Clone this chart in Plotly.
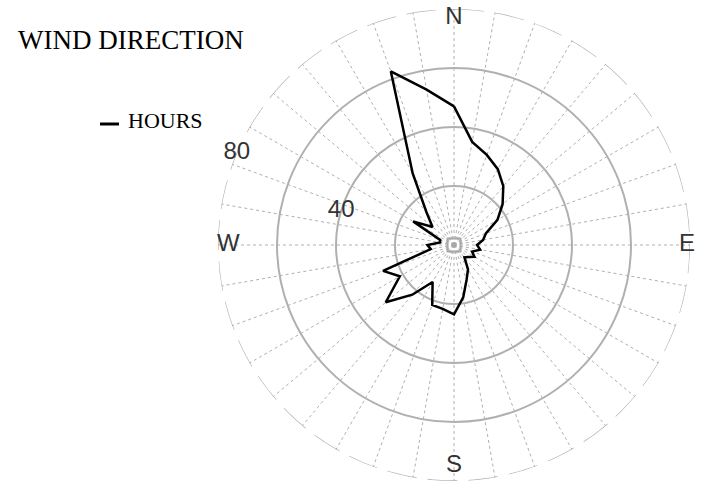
import numpy as np
import plotly.graph_objects as go

# ---- data ----
directions = [0, 10, 20, 30, 40, 50, 60, 70, 80, 90, 100, 110, 120, 130, 140, 150, 160, 170,
              180, 190, 200, 210, 220, 230, 240, 250, 260, 270, 280, 290, 300, 310, 320, 330, 340, 350]
hours = [47, 35.5, 32.5, 29.7, 26, 21.5, 17, 11.5, 10, 7.8, 9, 6.5, 8, 6.3, 5.5, 9.5, 12.5, 18,
         23.5, 22, 21.6, 14.5, 22, 30.2, 21.2, 25.6, 8, 9, 4.8, 5, 16, 9.5, 14.5, 28, 62.6, 53.5]
compass_labels = ["N", "E", "S", "W"]
compass_angles = [0, 90, 180, 270]
compass_r = [77, 79, 75, 76.5]
radial_ticks = [20, 40, 60, 80]
radial_label_text = ["40", "80"]
radial_label_r = [40, 80]
radial_label_theta = [287, 293]
series_name = "HOURS"
title_text = "WIND DIRECTION"

GRID = "#b0b0b0"

fig = go.Figure()

# outer dashed ring
ring_theta = np.linspace(0, 360, 361)
fig.add_trace(go.Scatterpolar(
    r=[radial_ticks[-1]] * len(ring_theta), theta=ring_theta, mode="lines",
    line=dict(color=GRID, width=1.3, dash="30px,11px"),
    hoverinfo="skip", showlegend=False))

# centre marker
fig.add_trace(go.Scatterpolar(
    r=[0], theta=[0], mode="markers",
    marker=dict(symbol="square-open", size=13, color="#a8a8a8", line=dict(width=2, color="#a8a8a8")),
    hoverinfo="skip", showlegend=False))
fig.add_trace(go.Scatterpolar(
    r=[0], theta=[0], mode="markers",
    marker=dict(symbol="square", size=4, color="#a8a8a8"),
    hoverinfo="skip", showlegend=False))

# data polygon (closed)
fig.add_trace(go.Scatterpolar(
    r=hours + [hours[0]], theta=directions + [directions[0]], mode="lines",
    line=dict(color="black", width=2.5), name=series_name, showlegend=False))

# compass labels
fig.add_trace(go.Scatterpolar(
    r=compass_r, theta=compass_angles, mode="text", text=compass_labels,
    textfont=dict(family="Liberation Sans", size=24, color="#333333"),
    cliponaxis=False, hoverinfo="skip", showlegend=False))

# radial labels
fig.add_trace(go.Scatterpolar(
    r=radial_label_r, theta=radial_label_theta, mode="text", text=radial_label_text,
    textfont=dict(family="Liberation Sans", size=24, color="#333333"),
    cliponaxis=False, hoverinfo="skip", showlegend=False))

R = 236
cx, cy = 454, 245
W, H = 707, 481
fig.update_layout(
    width=W, height=H,
    margin=dict(l=0, r=0, t=0, b=0),
    paper_bgcolor="white", plot_bgcolor="white",
    polar=dict(
        domain=dict(x=[(cx - R) / W, (cx + R) / W], y=[1 - (cy + R) / H, 1 - (cy - R) / H]),
        bgcolor="white",
        angularaxis=dict(rotation=90, direction="clockwise", tickmode="linear", tick0=0, dtick=10,
                         showticklabels=False, ticks="", showline=False,
                         gridcolor=GRID, gridwidth=1, griddash="3px,3px"),
        radialaxis=dict(range=[0, radial_ticks[-1]], tickvals=radial_ticks[:-1], showticklabels=False,
                        ticks="", showline=False, gridcolor=GRID, gridwidth=1.6),
    ),
    annotations=[
        dict(text=title_text, xref="paper", yref="paper", x=16 / W, y=1 - 39.5 / H,
             xanchor="left", yanchor="middle", showarrow=False,
             font=dict(family="Liberation Serif", size=27, color="black")),
        dict(text=series_name, xref="paper", yref="paper", x=126 / W, y=1 - 121 / H,
             xanchor="left", yanchor="middle", showarrow=False,
             font=dict(family="Liberation Serif", size=22, color="black")),
    ],
    shapes=[dict(type="line", xref="paper", yref="paper", x0=100 / W, x1=119 / W,
                 y0=1 - 124 / H, y1=1 - 124 / H, line=dict(color="black", width=3))],
)

fig.write_html("out.html", config={"displayModeBar": False},
               post_script="document.body.style.margin='0';document.body.style.overflow='hidden';")
